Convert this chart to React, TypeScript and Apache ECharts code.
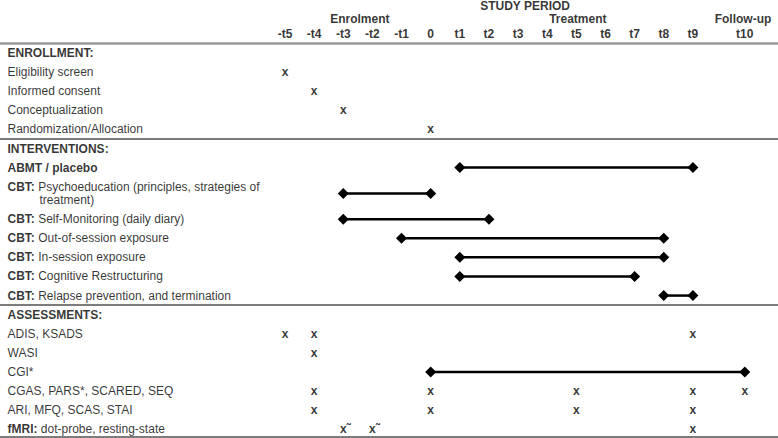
import React, { useEffect, useRef } from "react";
import * as echarts from "echarts";

// ---- Columns (study time points) ----
const columns = ["-t5", "-t4", "-t3", "-t2", "-t1", "0", "t1", "t2", "t3", "t4", "t5", "t6", "t7", "t8", "t9", "t10"];
const columnPos = [0, 1, 2, 3, 4, 5, 6, 7, 8, 9, 10, 11, 12, 13, 14, 15.78];

// ---- Period headers ----
const periods = ["STUDY PERIOD", "Enrolment", "Treatment", "Follow-up"];
const periodPos = [8.24, 2.57, 10.05, 15.72];
const periodRow = [-2.44, -1.76, -1.76, -1.76];
const columnHeaderRow = -1.0;

// ---- Rows ----
const rowLabels = [
  "ENROLLMENT:",
  "Eligibility screen",
  "Informed consent",
  "Conceptualization",
  "Randomization/Allocation",
  "INTERVENTIONS:",
  "ABMT / placebo",
  "CBT: Psychoeducation (principles, strategies of\ntreatment)",
  "CBT: Self-Monitoring (daily diary)",
  "CBT: Out-of-session exposure",
  "CBT: In-session exposure",
  "CBT: Cognitive Restructuring",
  "CBT: Relapse prevention, and termination",
  "ASSESSMENTS:",
  "ADIS, KSADS",
  "WASI",
  "CGI*",
  "CGAS, PARS*, SCARED, SEQ",
  "ARI, MFQ, SCAS, STAI",
  "fMRI: dot-probe, resting-state",
];
const rowPos = [0, 1, 2, 3, 4, 5, 6, 7.35, 8.7, 9.7, 10.7, 11.7, 12.7, 13.7, 14.7, 15.7, 16.7, 17.7, 18.7, 19.7];
const boldRows = ["ENROLLMENT:", "INTERVENTIONS:", "ABMT / placebo", "ASSESSMENTS:"];

// ---- Section dividers (row units) ----
const dividers = [-0.52, 4.5, 13.2, 20.1];

// ---- Marks ----
const xMarks: [string, string][] = [
  ["Eligibility screen", "-t5"],
  ["Informed consent", "-t4"],
  ["Conceptualization", "-t3"],
  ["Randomization/Allocation", "0"],
  ["ADIS, KSADS", "-t5"],
  ["ADIS, KSADS", "-t4"],
  ["ADIS, KSADS", "t9"],
  ["WASI", "-t4"],
  ["CGAS, PARS*", "-t4"],
  ["CGAS, PARS*", "0"],
  ["CGAS, PARS*", "t5"],
  ["CGAS, PARS*", "t9"],
  ["CGAS, PARS*", "t10"],
  ["ARI, MFQ", "-t4"],
  ["ARI, MFQ", "0"],
  ["ARI, MFQ", "t5"],
  ["ARI, MFQ", "t9"],
  ["fMRI:", "t9"],
];
const tildeMarks: [string, string][] = [
  ["fMRI:", "-t3"],
  ["fMRI:", "-t2"],
];
const intervals: [string, string, string][] = [
  ["ABMT / placebo", "t1", "t9"],
  ["CBT: Psychoeducation", "-t3", "0"],
  ["CBT: Self-Monitoring", "-t3", "t2"],
  ["CBT: Out-of-session", "-t1", "t8"],
  ["CBT: In-session", "t1", "t8"],
  ["CBT: Cognitive", "t1", "t7"],
  ["CBT: Relapse", "t8", "t9"],
  ["CGI*", "0", "t10"],
];

// axis extents (column units / row units)
const xMin = -9.78;
const xMax = 16.92;
const yMin = -2.775;
const yMax = 20.157;

const rowOf = (name: string) => rowPos[rowLabels.findIndex((l) => l.startsWith(name))];
const colOf = (name: string) => columnPos[columns.indexOf(name)];

const FONT = "'Liberation Sans', Arial, Helvetica, sans-serif";

function richLabel(label: string): string {
  if (boldRows.includes(label)) return `{b|${label}}`;
  const m = label.match(/^([A-Za-z]+:)\s(.*)$/s);
  if (m) {
    const parts = m[2].split("\n");
    let s = `{b|${m[1]}}{n| ${parts[0]}}`;
    for (let i = 1; i < parts.length; i++) s += `\n{ind|${parts[i]}}`;
    return s;
  }
  return `{n|${label}}`;
}

export default function App() {
  const ref = useRef<HTMLDivElement>(null);
  useEffect(() => {
    document.body.style.margin = "0";
    if (!ref.current) return;
    const chart = echarts.init(ref.current, undefined, { renderer: "svg" });

    const hiddenSym = { symbolSize: 1, itemStyle: { color: "rgba(0,0,0,0)" } };

    const series: any[] = [];

    // Row labels + dividers
    series.push({
      type: "scatter",
      ...hiddenSym,
      silent: true,
      data: rowLabels.map((l, i) => ({ value: [xMin, rowPos[i]], name: l })),
      label: {
        show: true,
        position: "right",
        distance: 7,
        color: "#000",
        formatter: (p: any) => richLabel(p.name),
        rich: {
          b: { fontFamily: FONT, fontSize: 12, fontWeight: "bold", color: "#000", lineHeight: 13 },
          n: { fontFamily: FONT, fontSize: 12, color: "#000", lineHeight: 13 },
          ind: { fontFamily: FONT, fontSize: 12, color: "#000", lineHeight: 13, padding: [0, 0, 0, 32] },
        },
      },
      markLine: {
        silent: true,
        symbol: ["none", "none"],
        label: { show: false },
        data: dividers.map((d, i) => ({
          yAxis: d,
          lineStyle: { color: i === 0 ? "#9a9a9a" : "#505050", width: i === 0 ? 2.5 : 1.5, type: "solid" },
        })),
      },
    });

    // Column headers
    series.push({
      type: "scatter",
      ...hiddenSym,
      silent: true,
      data: columns.map((c, i) => ({ value: [columnPos[i], columnHeaderRow], name: c })),
      label: {
        show: true,
        position: "inside",
        formatter: (p: any) => p.name,
        fontFamily: FONT,
        fontSize: 12,
        fontWeight: "bold",
        color: "#000",
      },
    });

    // Period headers
    series.push({
      type: "scatter",
      ...hiddenSym,
      silent: true,
      data: periods.map((c, i) => ({ value: [periodPos[i], periodRow[i]], name: c })),
      label: {
        show: true,
        position: "inside",
        formatter: (p: any) => p.name,
        fontFamily: FONT,
        fontSize: 12,
        fontWeight: "bold",
        color: "#000",
      },
    });

    // Intervals
    intervals.forEach(([row, a, b]) => {
      series.push({
        type: "line",
        silent: true,
        data: [
          [colOf(a), rowOf(row)],
          [colOf(b), rowOf(row)],
        ],
        symbol: "diamond",
        symbolSize: 11,
        showSymbol: true,
        lineStyle: { color: "#000", width: 2.5 },
        itemStyle: { color: "#000" },
        z: 3,
      });
    });

    // X marks
    series.push({
      type: "scatter",
      ...hiddenSym,
      silent: true,
      data: xMarks.map(([row, col]) => [colOf(col), rowOf(row)]),
      label: {
        show: true,
        position: "inside",
        formatter: "x",
        fontFamily: FONT,
        fontSize: 12,
        fontWeight: "bold",
        color: "#000",
      },
    });

    // x~ marks
    series.push({
      type: "scatter",
      ...hiddenSym,
      silent: true,
      data: tildeMarks.map(([row, col]) => [colOf(col), rowOf(row)]),
      label: {
        show: true,
        position: "inside",
        offset: [2, 0],
        formatter: "x\u02DC",
        fontFamily: FONT,
        fontSize: 12,
        fontWeight: "bold",
        color: "#000",
      },
    });

    chart.setOption({
      animation: false,
      backgroundColor: "#fff",
      textStyle: { fontFamily: FONT },
      grid: { left: 0, right: 0, top: 0, bottom: 0, containLabel: false },
      xAxis: { type: "value", min: xMin, max: xMax, show: false },
      yAxis: { type: "value", min: yMin, max: yMax, inverse: true, show: false },
      series,
    });
    return () => chart.dispose();
  }, []);
  return <div ref={ref} style={{ width: 778, height: 438 }} />;
}
